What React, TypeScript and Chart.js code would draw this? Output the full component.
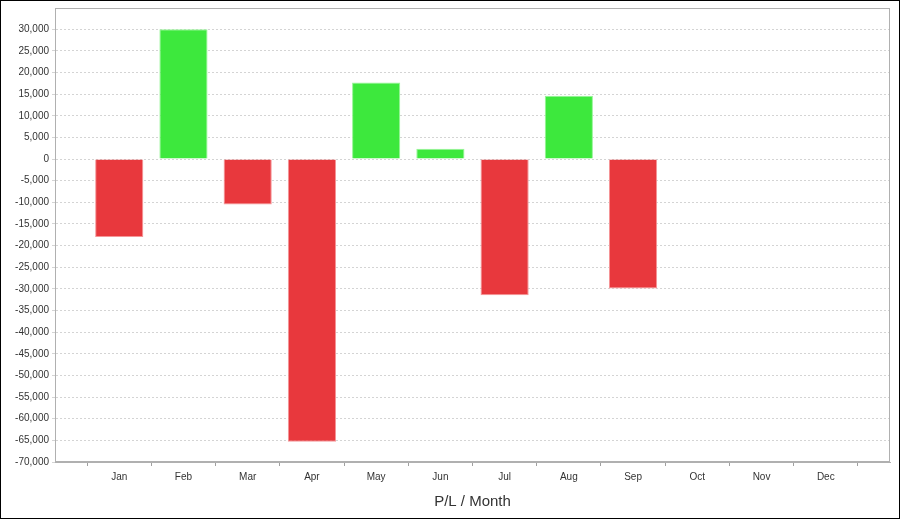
import React, { useEffect, useRef } from "react";
import { Chart, registerables } from "chart.js";

Chart.register(...registerables);

const months = ["Jan", "Feb", "Mar", "Apr", "May", "Jun", "Jul", "Aug", "Sep", "Oct", "Nov", "Dec"];
const profitLoss: (number | null)[] = [-18000, 30000, -10500, -65300, 17700, 2400, -31500, 14600, -29900, null, null, null];
const yTickValues = [
  30000, 25000, 20000, 15000, 10000, 5000, 0, -5000, -10000, -15000, -20000, -25000, -30000, -35000, -40000,
  -45000, -50000, -55000, -60000, -65000, -70000,
];
const yMin = -70000;
const yMax = 34900;
const axisTitle = "P/L / Month";

const RED = "rgb(232,56,61)";
const GREEN = "rgb(61,232,61)";
const RED_EDGE = "rgb(245,150,152)";
const GREEN_EDGE = "rgb(150,245,150)";

const framePlugin = {
  id: "frame",
  afterDraw(chart: any) {
    const { ctx, chartArea } = chart;
    ctx.save();
    ctx.strokeStyle = "#b0b0b0";
    ctx.lineWidth = 1;
    ctx.strokeRect(chartArea.left + 0.5, chartArea.top + 0.5, chartArea.right - chartArea.left - 1, chartArea.bottom - chartArea.top - 1);
    ctx.restore();
  },
};

const bgPlugin = {
  id: "bg",
  beforeDraw(chart: any) {
    const { ctx, width, height } = chart;
    ctx.save();
    ctx.fillStyle = "#ffffff";
    ctx.fillRect(0, 0, width, height);
    ctx.restore();
  },
};

export default function App() {
  const ref = useRef<HTMLCanvasElement | null>(null);

  useEffect(() => {
    if (!ref.current) return;
    const labels = ["", ...months, ""];
    const data = [null, ...profitLoss, null];
    const bg = data.map((v) => (v !== null && v < 0 ? RED : GREEN));
    const border = data.map((v) => (v !== null && v < 0 ? RED_EDGE : GREEN_EDGE));
    const chart = new Chart(ref.current, {
      type: "bar",
      data: {
        labels,
        datasets: [
          {
            data,
            backgroundColor: bg,
            borderColor: border,
            borderWidth: 1,
            categoryPercentage: 0.75,
            barPercentage: 1,
          },
        ],
      },
      options: {
        animation: false,
        responsive: false,
        layout: { padding: { top: 7, right: 9, left: 0, bottom: 0 } },
        plugins: {
          legend: { display: false },
          tooltip: { enabled: false },
        },
        scales: {
          x: {
            type: "category",
            offset: false,
            grid: { display: true, drawOnChartArea: false, drawTicks: true, tickLength: 4, color: "#a0a0a0" },
            border: { display: true, color: "#b0b0b0" },
            ticks: {
              color: "#333",
              font: { family: "'Liberation Sans', Arial", size: 10 },
              padding: 5,
              maxRotation: 0,
              autoSkip: false,
            },
            title: {
              display: true,
              text: axisTitle,
              color: "#333",
              font: { family: "'Liberation Sans', Arial", size: 15 },
              padding: { top: 6, bottom: 7 },
            },
            afterFit(scale: any) {
              scale.height = 56;
            },
          },
          y: {
            min: yMin,
            max: yMax,
            grid: { color: "#d4d4d4", drawTicks: true, tickLength: 3 },
            border: { display: true, color: "#b0b0b0", dash: [2, 2] },
            ticks: {
              autoSkip: false,
              color: "#333",
              font: { family: "'Liberation Sans', Arial", size: 10 },
              padding: 3,
              callback: (v: any) => Number(v).toLocaleString("en-US"),
            },
            afterBuildTicks(scale: any) {
              scale.ticks = yTickValues.map((v) => ({ value: v }));
            },
            afterFit(scale: any) {
              scale.width = 54;
              scale.paddingTop = 0;
              scale.paddingBottom = 0;
            },
          },
        },
      },
      plugins: [bgPlugin, framePlugin],
    });
    return () => chart.destroy();
  }, []);

  return (
    <div
      style={{
        position: "absolute",
        left: 0,
        top: 0,
        width: 900,
        height: 519,
        boxSizing: "border-box",
        border: "1px solid #000",
        background: "#fff",
      }}
    >
      <canvas ref={ref} width={898} height={517} style={{ display: "block" }} />
    </div>
  );
}
